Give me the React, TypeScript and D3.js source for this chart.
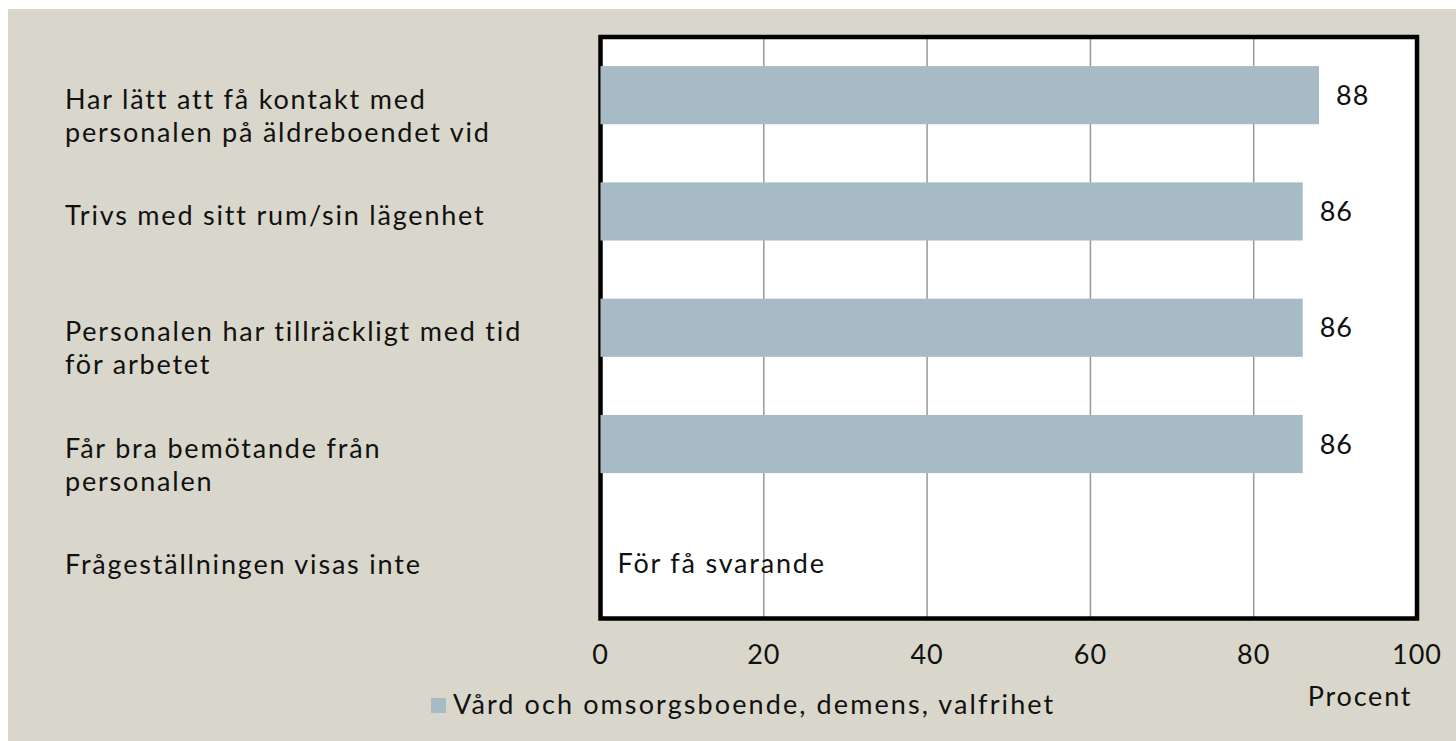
import React, { useEffect, useRef } from 'react';
import * as d3 from 'd3';

const categories = [
  ['Har lätt att få kontakt med', 'personalen på äldreboendet vid'],
  ['Trivs med sitt rum/sin lägenhet'],
  ['Personalen har tillräckligt med tid', 'för arbetet'],
  ['Får bra bemötande från', 'personalen'],
  ['Frågeställningen visas inte'],
];
const values: (number | null)[] = [88, 86, 86, 86, null];
const missingText = 'För få svarande';
const xTicks = [0, 20, 40, 60, 80, 100];
const seriesName = 'Vård och omsorgsboende, demens, valfrihet';
const axisTitle = 'Procent';

const W = 1456;
const H = 741;
const FONT = "Lato, 'Open Sans', sans-serif";
const LS = 1.8;

const App: React.FC = () => {
  const svgRef = useRef<SVGSVGElement | null>(null);

  useEffect(() => {
    const svg = d3.select(svgRef.current);
    svg.selectAll('*').remove();

    svg.append('rect').attr('x', 8).attr('y', 9).attr('width', W - 8).attr('height', H - 9).attr('fill', '#d9d7cb');

    const left = 600.5;
    const right = 1417;
    const top = 37;
    const bottom = 618.5;

    const x = d3.scaleLinear().domain([0, 100]).range([left, right]);
    const y = d3
      .scaleBand<number>()
      .domain(d3.range(categories.length))
      .range([top, bottom])
      .paddingInner(0.5)
      .paddingOuter(0.25);

    const txt = (sel: d3.Selection<any, any, any, any>) =>
      sel
        .attr('font-family', FONT)
        .attr('font-size', 27)
        .attr('letter-spacing', LS)
        .attr('fill', '#111');

    // plot area
    svg.append('rect').attr('x', left).attr('y', top).attr('width', right - left).attr('height', bottom - top).attr('fill', '#fff');

    // grid
    svg
      .append('g')
      .selectAll('line')
      .data(xTicks.slice(1, -1))
      .join('line')
      .attr('x1', (d) => x(d))
      .attr('x2', (d) => x(d))
      .attr('y1', top)
      .attr('y2', bottom)
      .attr('stroke', '#999')
      .attr('stroke-width', 1.5);

    // border
    svg
      .append('rect')
      .attr('x', left)
      .attr('y', top)
      .attr('width', right - left)
      .attr('height', bottom - top)
      .attr('fill', 'none')
      .attr('stroke', '#000')
      .attr('stroke-width', 4.5);

    // bars (drawn over the left border, like the original)
    const idx = d3.range(categories.length).filter((i) => values[i] != null);
    svg
      .append('g')
      .selectAll('rect')
      .data(idx)
      .join('rect')
      .attr('x', x(0))
      .attr('y', (i) => y(i)!)
      .attr('width', (i) => x(values[i] as number) - x(0))
      .attr('height', y.bandwidth())
      .attr('fill', '#a7bbc5');

    svg
      .append('g')
      .selectAll('text')
      .data(idx)
      .join('text')
      .attr('x', (i) => x(values[i] as number) + 17)
      .attr('y', (i) => y(i)! + y.bandwidth() / 2)
      .attr('dy', '0.35em')
      .call(txt)
      .attr('letter-spacing', 1)
      .text((i) => String(values[i]));

    // missing
    d3.range(categories.length)
      .filter((i) => values[i] == null)
      .forEach((i) => {
        svg
          .append('text')
          .attr('x', x(0) + 17)
          .attr('y', y(i)! + y.bandwidth() / 2 + 3)
          .attr('dy', '0.35em')
          .call(txt)
          .text(missingText);
      });

    // category labels
    categories.forEach((lines, i) => {
      const t = svg
        .append('text')
        .call(txt)
        .attr('y', y(i)! + y.bandwidth() / 2 + 4);
      lines.forEach((ln, j) => {
        t.append('tspan')
          .attr('x', 65)
          .attr('dy', j === 0 ? '0.35em' : 33)
          .text(ln);
      });
    });

    // x tick labels
    svg
      .append('g')
      .selectAll('text')
      .data(xTicks)
      .join('text')
      .attr('x', (d) => x(d))
      .attr('y', 655)
      .attr('dy', '0.35em')
      .attr('text-anchor', 'middle')
      .call(txt)
      .attr('letter-spacing', 1)
      .text((d) => String(d));

    svg
      .append('text')
      .attr('x', 1360)
      .attr('y', 697)
      .attr('dy', '0.35em')
      .attr('text-anchor', 'middle')
      .call(txt)
      .text(axisTitle);

    // legend
    svg.append('rect').attr('x', 431).attr('y', 698).attr('width', 15).attr('height', 15).attr('fill', '#a7bbc5');
    svg
      .append('text')
      .attr('x', 453)
      .attr('y', 705)
      .attr('dy', '0.35em')
      .call(txt)
      .attr('letter-spacing', 2.1)
      .text(seriesName);
  }, []);

  return (
    <div style={{ position: 'fixed', left: 0, top: 0, width: W, height: H, overflow: 'hidden' }}>
      <svg ref={svgRef} width={W} height={H} style={{ display: 'block' }}></svg>
    </div>
  );
};

export default App;
